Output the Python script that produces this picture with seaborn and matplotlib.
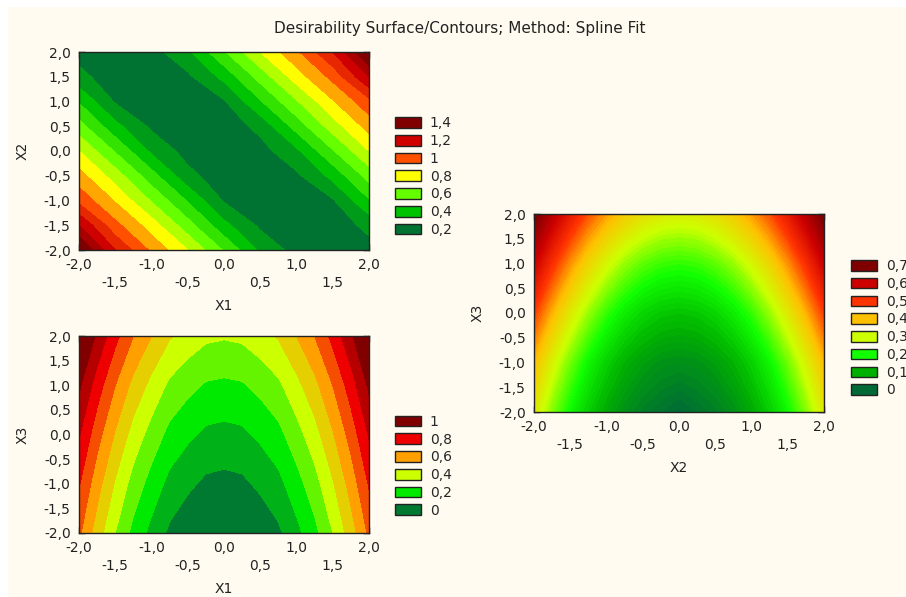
import numpy as np
import matplotlib
matplotlib.use("Agg")
import matplotlib.pyplot as plt
from matplotlib.patches import Patch, Rectangle
import seaborn as sns

# grid nodes
grid_half = [-2.0, -1.5, -1.0, -0.5, 0.0, 0.5, 1.0, 1.5, 2.0]
grid_quarter = [-2.0, -1.75, -1.5, -1.25, -1.0, -0.75, -0.5, -0.25, 0.0,
                0.25, 0.5, 0.75, 1.0, 1.25, 1.5, 1.75, 2.0]
grid_unit = [-2.0, -1.0, 0.0, 1.0, 2.0]

# desirability; rows = y value (bottom -> top), cols = x value
# X1 (cols, half steps) vs X2 (rows, half steps)
z_x1_x2 = [
    [1.52, 1.20, 0.98, 0.80, 0.59, 0.38, 0.26, 0.22, 0.26],
    [1.30, 1.03, 0.85, 0.64, 0.43, 0.28, 0.22, 0.24, 0.33],
    [1.07, 0.89, 0.69, 0.49, 0.29, 0.23, 0.23, 0.29, 0.49],
    [0.94, 0.75, 0.54, 0.33, 0.24, 0.22, 0.28, 0.43, 0.64],
    [0.80, 0.59, 0.38, 0.26, 0.22, 0.26, 0.38, 0.59, 0.80],
    [0.64, 0.43, 0.28, 0.22, 0.24, 0.33, 0.54, 0.75, 0.94],
    [0.49, 0.29, 0.23, 0.23, 0.29, 0.49, 0.69, 0.89, 1.07],
    [0.33, 0.24, 0.22, 0.28, 0.43, 0.64, 0.85, 1.03, 1.30],
    [0.26, 0.22, 0.26, 0.38, 0.59, 0.80, 0.98, 1.20, 1.52],
]
# X1 (cols, quarter steps) vs X3 (rows, unit steps)
z_x1_x3 = [
    [0.72, 0.55, 0.40, 0.27, 0.17, 0.08, 0.03, -0.01, -0.02, -0.01, 0.03, 0.08, 0.17, 0.27, 0.40, 0.55, 0.72],
    [0.81, 0.64, 0.49, 0.36, 0.26, 0.17, 0.12, 0.08, 0.07, 0.08, 0.12, 0.17, 0.26, 0.36, 0.49, 0.64, 0.81],
    [0.91, 0.74, 0.59, 0.46, 0.36, 0.27, 0.22, 0.18, 0.17, 0.18, 0.22, 0.27, 0.36, 0.46, 0.59, 0.74, 0.91],
    [1.02, 0.85, 0.70, 0.57, 0.47, 0.38, 0.33, 0.29, 0.28, 0.29, 0.33, 0.38, 0.47, 0.57, 0.70, 0.85, 1.02],
    [1.15, 0.98, 0.83, 0.70, 0.60, 0.51, 0.46, 0.42, 0.41, 0.42, 0.46, 0.51, 0.60, 0.70, 0.83, 0.98, 1.15],
]
# X2 (cols, quarter steps) vs X3 (rows, unit steps)
z_x2_x3 = [
    [0.339, 0.263, 0.197, 0.142, 0.096, 0.061, 0.035, 0.020, 0.005, 0.020, 0.035, 0.061, 0.096, 0.142, 0.197, 0.263, 0.339],
    [0.404, 0.323, 0.254, 0.194, 0.146, 0.108, 0.082, 0.065, 0.060, 0.065, 0.082, 0.108, 0.146, 0.194, 0.254, 0.323, 0.404],
    [0.498, 0.412, 0.337, 0.274, 0.222, 0.182, 0.153, 0.136, 0.130, 0.136, 0.153, 0.182, 0.222, 0.274, 0.337, 0.412, 0.498],
    [0.604, 0.514, 0.436, 0.370, 0.316, 0.274, 0.244, 0.226, 0.220, 0.226, 0.244, 0.274, 0.316, 0.370, 0.436, 0.514, 0.604],
    [0.722, 0.630, 0.551, 0.483, 0.428, 0.385, 0.355, 0.336, 0.330, 0.336, 0.355, 0.385, 0.428, 0.483, 0.551, 0.630, 0.722],
]

# legend levels and their colours (low -> high)
lev1 = [0.2, 0.4, 0.6, 0.8, 1.0, 1.2, 1.4]
col1 = ["#007232", "#00c400", "#66ff00", "#ffff00", "#ff5000", "#d00000", "#800000"]
lev2 = [0.0, 0.2, 0.4, 0.6, 0.8, 1.0]
col2 = ["#007a30", "#00ea00", "#ccff00", "#ffa000", "#ee0000", "#800000"]
lev3 = [0.0, 0.1, 0.2, 0.3, 0.4, 0.5, 0.6, 0.7]
col3 = ["#006a36", "#00b000", "#11ff00", "#ccff00", "#ffc000", "#ff3300", "#cc0000", "#800000"]

ticks = [-2.0, -1.5, -1.0, -0.5, 0.0, 0.5, 1.0, 1.5, 2.0]

bg = "#fffbf0"
ink = "#222222"
sns.set_style("ticks")
plt.rcParams["font.family"] = ["DejaVu Sans"]
fs = 10

fig = plt.figure(figsize=(9.06, 5.97), dpi=100, facecolor="white")
fig.patches.append(Rectangle((8 / 906, 0), 1, 1 - 7 / 597, transform=fig.transFigure,
                             facecolor=bg, edgecolor="none", zorder=-10))


def comma(v):
    if abs(v) < 1e-9:
        return "0"
    if abs(v - round(v)) < 1e-9:
        return str(int(round(v)))
    return f"{v:.1f}".replace(".", ",")


def panel(rect, xs, ys, z, xlabel, ylabel, levs, cols, step, leg_xy):
    ax = fig.add_axes(rect)
    cmap = sns.blend_palette(cols, as_cmap=True)
    lo, hi = levs[0], levs[-1]
    n = int(round((hi - lo) / step))
    levels = np.round(lo + step * np.arange(-4, n + 6), 4)
    band_cols = [cmap(np.clip((l - lo) / (hi - lo), 0, 1)) for l in levels[:-1]]
    ax.contourf(xs, ys, np.array(z), levels=levels, colors=band_cols, antialiased=False)
    ax.set_xlim(-2, 2)
    ax.set_ylim(-2, 2)
    ax.set_xticks(ticks)
    ax.set_xticklabels([f"{t:.1f}".replace(".", ",") if i % 2 == 0
                        else "\n" + f"{t:.1f}".replace(".", ",")
                        for i, t in enumerate(ticks)])
    for lab in ax.get_xticklabels():
        lab.set_linespacing(1.35)
    ax.set_yticks(ticks)
    ax.set_yticklabels([f"{t:.1f}".replace(".", ",") for t in ticks])
    ax.tick_params(direction="in", length=4, width=1, top=True, right=True,
                   colors=ink, labelsize=fs, pad=6)
    for s in ax.spines.values():
        s.set_color(ink)
        s.set_linewidth(1)
    ax.set_xlabel(xlabel, fontsize=fs, color=ink)
    ax.set_ylabel(ylabel, fontsize=fs, color=ink)
    ax.xaxis.set_label_coords(0.5, -0.25)
    ax.yaxis.set_label_coords(-0.17, 0.5)

    handles = [Patch(facecolor=c, edgecolor=ink, linewidth=1) for c in cols]
    ax.legend(handles[::-1], [comma(v) for v in levs][::-1], loc="upper left",
              bbox_to_anchor=leg_xy, frameon=False, borderpad=0, borderaxespad=0,
              handlelength=1.9, handleheight=0.8, handletextpad=0.6,
              labelspacing=0.27, fontsize=fs)
    return ax


panel([79 / 906, 1 - 250 / 597, 290 / 906, 198 / 597], grid_half, grid_half, z_x1_x2,
      "X1", "X2", lev1, col1, 0.1, (1.09, 0.675))
panel([79 / 906, 1 - 533 / 597, 290 / 906, 197 / 597], grid_quarter, grid_unit, z_x1_x3,
      "X1", "X3", lev2, col2, 0.1, (1.09, 0.60))
panel([534 / 906, 1 - 412 / 597, 290 / 906, 198 / 597], grid_quarter, grid_unit, z_x2_x3,
      "X2", "X3", lev3, col3, 0.01, (1.093, 0.772))

fig.text(460 / 906, 1 - 28 / 597, "Desirability Surface/Contours; Method: Spline Fit",
         ha="center", va="center", fontsize=11, color=ink)

fig.savefig("out.png", dpi=100, facecolor=fig.get_facecolor())
